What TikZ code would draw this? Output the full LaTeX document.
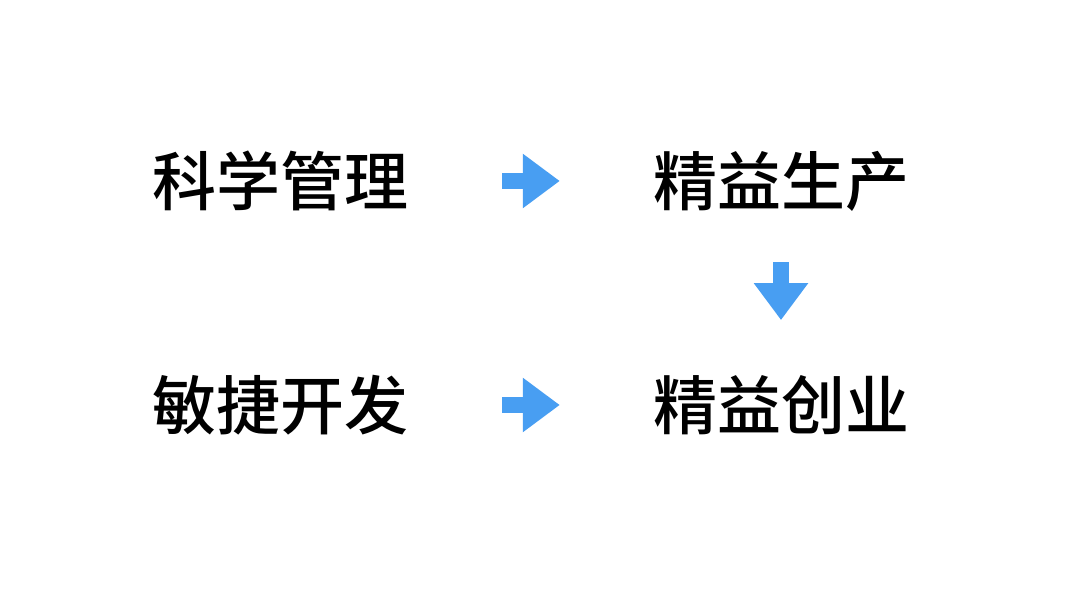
\documentclass[tikz,border=0pt]{standalone}
\usepackage{fontspec}
\usepackage{tikz}
\usetikzlibrary{
    arrows.meta,
    positioning
}
\newfontfamily\cjk{Noto Sans CJK SC Medium}
\definecolor{FlowBlue}{RGB}{72,158,242}

\begin{document}
\begin{tikzpicture}[
    x=1pt,
    y=1pt,
    node distance=224pt and 501pt,
    stage/.style={
        inner sep=0pt,
        font=\cjk\fontsize{64pt}{70pt}\selectfont
    },
    flow/.style={
        draw=FlowBlue,
        line width=16pt,
        -{Triangle[width=52pt,length=37pt]}
    }
]
\useasboundingbox[fill=white] (0,0) rectangle (1080,591);

\node[
    stage
] (science) at (280,410) {科学管理};

\node[
    stage,
    on grid,
    right=of science
] (leanprod) {精益生产};

\node[
    stage,
    on grid,
    below=of science
] (agile) {敏捷开发};

\node[
    stage,
    on grid,
    below=of leanprod
] (leanstart) {精益创业};

\draw[flow, shorten <=94pt, shorten >=93pt] (science) -- (leanprod);
\draw[flow, shorten <=94pt, shorten >=93pt] (agile) -- (leanstart);
\draw[flow, shorten <=51pt, shorten >=55pt] (leanprod) -- (leanstart);

\end{tikzpicture}
\end{document}
